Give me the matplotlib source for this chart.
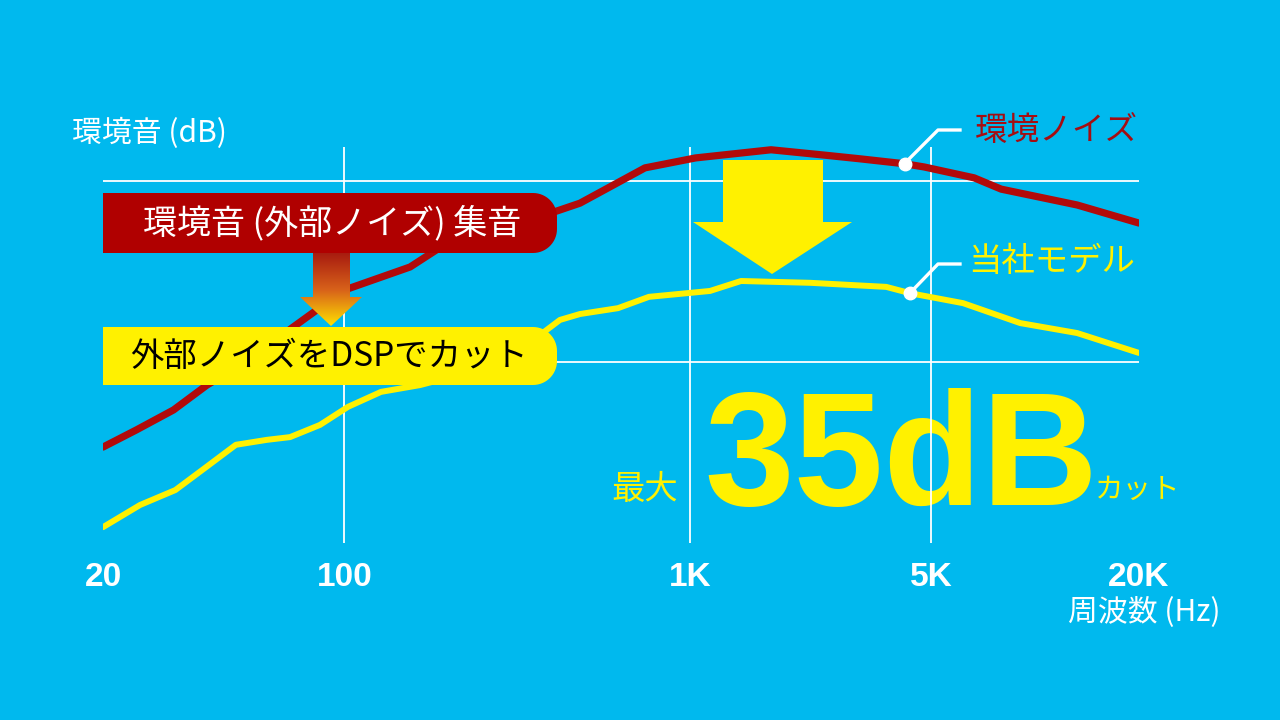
import numpy as np
import matplotlib
matplotlib.use('Agg')
import matplotlib.pyplot as plt
from matplotlib.patches import Polygon
from matplotlib.transforms import Affine2D
from matplotlib.colors import LinearSegmentedColormap
from matplotlib.ticker import NullLocator

JP = ['Noto Sans CJK JP', 'DejaVu Sans']
NUM = ['Liberation Sans', 'DejaVu Sans']

BG = '#00B9EE'
RED = '#B20A0A'
YEL = '#FFF100'

# 環境ノイズ (Hz, dB)
noise_f = [20, 25, 32, 40, 53, 71, 100, 155, 185, 282, 421, 481, 742, 1040,
           1720, 2470, 3115, 4200, 4775, 6660, 7980, 13240, 20000]
noise_db = [21.2, 25.0, 29.4, 34.9, 40.4, 47.7, 55.9, 61.0, 64.8, 69.2, 73.6, 75.1,
            82.9, 85.1, 86.9, 85.7, 84.9, 83.8, 83.1, 80.7, 78.2, 74.7, 70.7]

# 当社モデル
model_f = [20, 25.6, 32.4, 39.5, 48.5, 59.7, 69.6, 85, 102.5, 127.7, 165.6, 231, 302,
           369, 421, 481, 620, 762, 1145, 1408, 2234, 3707, 4350, 6190, 9060, 13240, 20000]
model_db = [3.5, 8.4, 11.7, 16.6, 21.7, 22.8, 23.4, 26.1, 30.1, 33.4, 34.9, 37.8, 42.2,
            46.0, 49.3, 50.6, 51.9, 54.4, 55.7, 57.9, 57.5, 56.6, 55.2, 53.0, 48.6, 46.4, 42.0]

tick_f = [20, 100, 1000, 5000, 20000]
tick_labels = ['20', '100', '1K', '5K', '20K']
grid_f = [100, 1000, 5000]
grid_db = [80, 40]

fig = plt.figure(figsize=(12.8, 7.2), dpi=100, facecolor=BG)
ax = fig.add_axes([103 / 1280, 1 - 543 / 720, (1139 - 103) / 1280, (543 - 90.5) / 720])
ax.set_facecolor(BG)
ax.set_xscale('log')
ax.set_xlim(20, 20000)
ax.set_ylim(0, 100)
for s in ax.spines.values():
    s.set_visible(False)
ax.xaxis.set_minor_locator(NullLocator())
ax.set_xticks(tick_f)
ax.set_xticklabels(tick_labels, fontsize=24, fontweight='bold', color='white', family=NUM)
ax.tick_params(axis='x', length=0, pad=14)
ax.set_yticks([])

# pixel coords (origin top-left)
px = Affine2D().scale(1 / 1280, -1 / 720).translate(0, 1) + fig.transFigure

ax.text(704, 505, '35dB', transform=px, fontsize=116, fontweight='bold', family=NUM,
        color=YEL, ha='left', va='baseline', zorder=1, clip_on=False)

ax.vlines(grid_f, -0.5, 87.5, color='white', lw=1.3, zorder=2)
ax.hlines(grid_db, 20, 20000, color='white', lw=1.3, zorder=2)

big_arrow = Polygon([(723, 160), (823, 160), (823, 222), (852, 222), (772, 274), (693, 222), (723, 222)],
                    closed=True, transform=px, facecolor=YEL, edgecolor='none', zorder=2.5, clip_on=False)
ax.add_patch(big_arrow)

ax.plot(noise_f, noise_db, color=RED, lw=5.2, solid_capstyle='round', solid_joinstyle='round', zorder=3)
ax.plot(model_f, model_db, color=YEL, lw=4.3, solid_capstyle='round', solid_joinstyle='round', zorder=3)


def pill(x0, x1, y0, y1, r):
    t1 = np.linspace(-np.pi / 2, 0, 16)
    t2 = np.linspace(0, np.pi / 2, 16)
    pts = [(x0, y0)]
    pts += [(x1 - r + r * np.cos(t), y0 + r + r * np.sin(t)) for t in t1]
    pts += [(x1 - r + r * np.cos(t), y1 - r + r * np.sin(t)) for t in t2]
    pts += [(x0, y1)]
    return pts


ax.add_patch(Polygon(pill(103, 557, 193, 253, 24), transform=px, facecolor='#B00000',
                     edgecolor='none', zorder=4, clip_on=False))
ax.add_patch(Polygon(pill(103, 557, 327, 385, 24), transform=px, facecolor=YEL,
                     edgecolor='none', zorder=4, clip_on=False))

ax.text(332, 223, '環境音 (外部ノイズ) 集音', transform=px, fontsize=24.5, family=JP,
        color='white', ha='center', va='center', zorder=6)
ax.text(329, 356, '外部ノイズをDSPでカット', transform=px, fontsize=24, family=JP,
        color='black', ha='center', va='center', zorder=6)

# leader lines + dots
i_r = noise_f.index(4200)
i_y = model_f.index(4350)
ax.plot([904, 938, 960], [164, 130, 130], transform=px, color='white', lw=2.4, zorder=6, clip_on=False)
ax.plot([910, 938, 960], [293, 264, 264], transform=px, color='white', lw=2.4, zorder=6, clip_on=False)
ax.plot(noise_f[i_r], noise_db[i_r], 'o', color='white', ms=9, zorder=7)
ax.plot(model_f[i_y], model_db[i_y], 'o', color='white', ms=9, zorder=7)

ax.text(975, 131, '環境ノイズ', transform=px, fontsize=23.5, family=JP, color='#A50D12',
        ha='left', va='center', zorder=6)
ax.text(968, 262, '当社モデル', transform=px, fontsize=24, family=JP, color=YEL,
        ha='left', va='center', zorder=6)
ax.text(72, 133, '環境音 (dB)', transform=px, fontsize=21.5, family=JP, color='white',
        ha='left', va='center', zorder=6)
ax.text(645, 490, '最大', transform=px, fontsize=24, family=JP, color=YEL,
        ha='center', va='center', zorder=6)
ax.text(1095, 490, 'カット', transform=px, fontsize=20.5, family=JP, color=YEL,
        ha='left', va='center', zorder=6)
ax.text(1221, 612, '周波数 (Hz)', transform=px, fontsize=21.5, family=JP, color='white',
        ha='right', va='center', zorder=6)

# gradient arrow between the boxes
ga = fig.add_axes([300 / 1280, 1 - 327 / 720, 64 / 1280, 74 / 720])
ga.set_xlim(300, 364)
ga.set_ylim(327, 253)
ga.axis('off')
cm = LinearSegmentedColormap.from_list('g', ['#A81C10', '#D8621A', '#FFE400'])
grad = np.linspace(0, 1, 200).reshape(-1, 1)
im = ga.imshow(grad, extent=(300, 364, 327, 253), cmap=cm, aspect='auto', origin='upper')
clip = Polygon([(313, 253), (350, 253), (350, 297), (362, 297), (331, 326), (300, 297), (313, 297)],
               transform=ga.transData)
im.set_clip_path(clip)

fig.savefig('out.png', dpi=100, facecolor=BG)
